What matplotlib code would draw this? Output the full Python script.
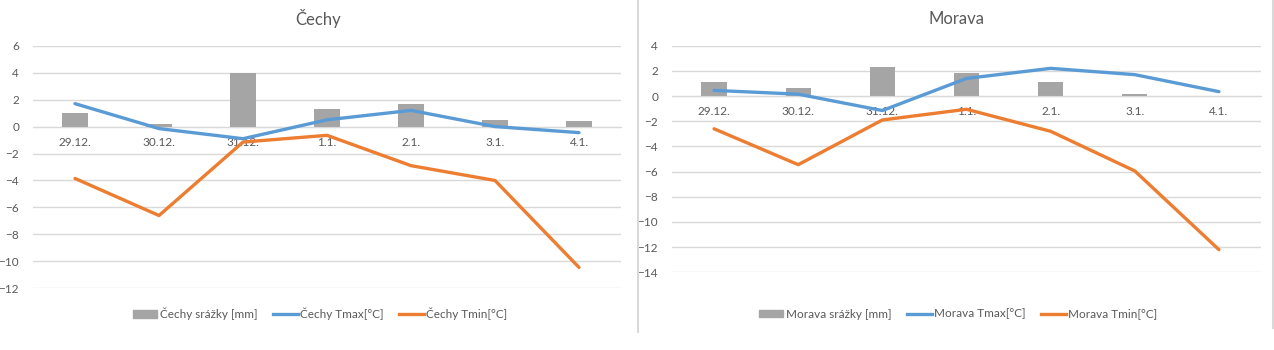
import matplotlib
matplotlib.use('Agg')
import numpy as np
import matplotlib.pyplot as plt
from matplotlib.lines import Line2D
from matplotlib.patches import Patch

plt.rcParams['font.family'] = ['Lato', 'DejaVu Sans']

# data
days = ['29.12.', '30.12.', '31.12.', '1.1.', '2.1.', '3.1.', '4.1.']

cechy_srazky = [1.0, 0.2, 4.0, 1.3, 1.7, 0.5, 0.4]
cechy_tmax = [1.7, -0.15, -0.9, 0.5, 1.2, 0.0, -0.45]
cechy_tmin = [-3.85, -6.6, -1.15, -0.65, -2.9, -4.0, -10.45]

morava_srazky = [1.1, 0.65, 2.3, 1.8, 1.1, 0.15, 0.0]
morava_tmax = [0.45, 0.15, -1.15, 1.4, 2.2, 1.7, 0.35]
morava_tmin = [-2.6, -5.45, -1.9, -1.05, -2.8, -5.95, -12.2]

GREY = '#A5A5A5'
BLUE = '#5B9BD5'
ORANGE = '#ED7D31'
TXT = '#595959'
GRID = '#D9D9D9'

W, H = 1274, 350
fig = plt.figure(figsize=(W / 100, H / 100), dpi=100)


def px_axes(x0, x1, ytop, ybot):
    return fig.add_axes([x0 / W, 1 - ybot / H, (x1 - x0) / W, (ybot - ytop) / H])


def draw_panel(ax, name, srazky, tmax, tmin, ymin, ymax, title_x, legend_x):
    x = np.arange(len(days))
    ax.bar(x, srazky, width=0.3, color=GREY, zorder=2)
    ax.plot(x, tmax, color=BLUE, lw=2.4, zorder=3, solid_capstyle='round')
    ax.plot(x, tmin, color=ORANGE, lw=2.4, zorder=3, solid_capstyle='round')

    ax.set_xlim(-0.5, len(days) - 0.5)
    ax.set_ylim(ymin, ymax)
    ax.set_yticks(np.arange(ymin, ymax + 1, 2))
    ax.yaxis.grid(True, color=GRID, lw=1)
    ax.set_axisbelow(True)
    for s in ['left', 'right', 'top']:
        ax.spines[s].set_visible(False)
    ax.spines['bottom'].set_position(('data', 0))
    ax.spines['bottom'].set_color(GRID)
    ax.set_xticks(x)
    ax.set_xticklabels(days)
    ax.tick_params(axis='x', length=0, pad=7.5, labelsize=8.5, labelcolor=TXT)
    ax.tick_params(axis='y', length=0, pad=10, labelsize=8.5, labelcolor=TXT)

    fig.text(title_x / W, 1 - 19 / H, name, ha='center', va='center',
             fontsize=12, color=TXT)

    handles = [Patch(color=GREY), Line2D([], [], color=BLUE, lw=2.4),
               Line2D([], [], color=ORANGE, lw=2.4)]
    labels = [name + ' srážky [mm]', name + ' Tmax[°C]', name + ' Tmin[°C]']
    fig.legend(handles, labels, loc='center', ncol=3, frameon=False,
               bbox_to_anchor=(legend_x / W, 1 - 314 / H), fontsize=8.5,
               labelcolor=TXT, handlelength=2.1, handleheight=0.6,
               handletextpad=0.2, columnspacing=1.3)


ax1 = px_axes(33, 621, 45.7, 288.3)
draw_panel(ax1, 'Čechy', cechy_srazky, cechy_tmax, cechy_tmin, -12, 6, 318, 320)

ax2 = px_axes(672, 1261, 45.7, 272.3)
draw_panel(ax2, 'Morava', morava_srazky, morava_tmax, morava_tmin, -14, 4, 956, 958)

# panel borders
fig.add_artist(Line2D([637.5 / W, 637.5 / W], [1, 1 - 332 / H], color=GRID, lw=1.5))
fig.add_artist(Line2D([1272.5 / W, 1272.5 / W], [1, 1 - 328 / H], color=GRID, lw=1.5))

fig.savefig('out.png', dpi=100)
